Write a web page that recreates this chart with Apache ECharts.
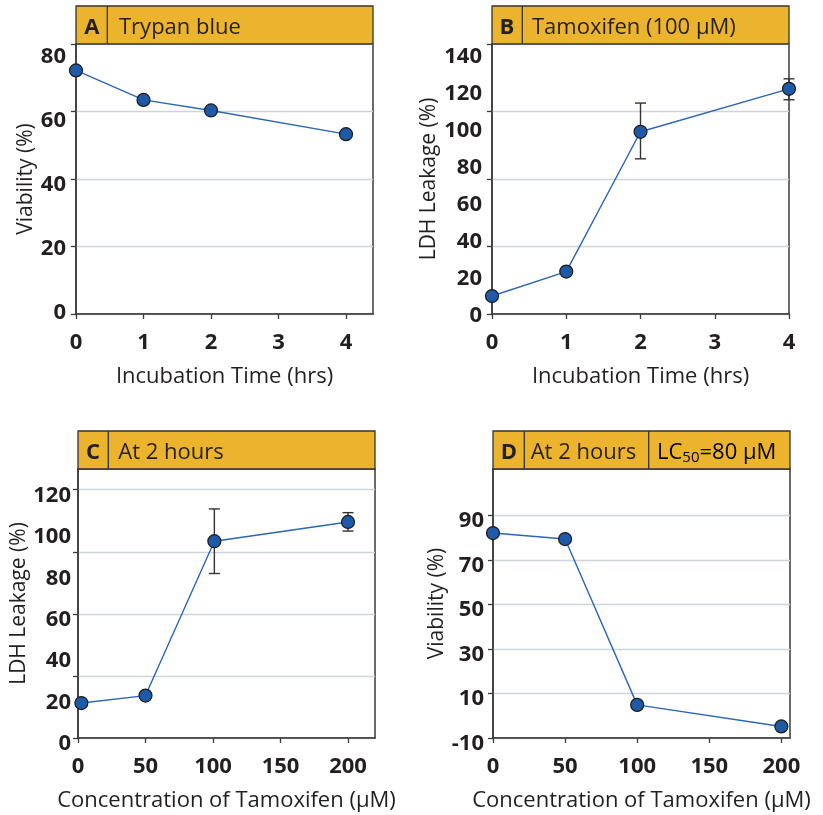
<!DOCTYPE html>
<html><head><meta charset="utf-8">
<script src="https://cdn.jsdelivr.net/npm/echarts@6/dist/echarts.min.js"></script>
<style>html,body{margin:0;padding:0;background:#fff}#c{width:823px;height:815px}</style>
</head><body><div id="c"></div>
<script>
// ---------------- data ----------------
const timeHrs = [0, 1, 2, 4];
const viabilityA = [75.0, 65.8, 62.5, 55.1];
const ldhB = [9.7, 22.9, 98.4, 121.6];
const ldhBLow = [null, null, 83.8, 115.7];
const ldhBHigh = [null, null, 113.9, 127.0];
const concC = [2.5, 50, 101, 200];
const ldhC = [16.9, 20.5, 95.1, 104.4];
const ldhCLow = [null, null, 79.5, 100.0];
const ldhCHigh = [null, null, 110.7, 108.9];
const concD = [0, 50, 100, 200];
const viabilityD = [82.2, 79.5, 4.9, -4.8];

const yLabelsA = [0, 20, 40, 60, 80];
const yLabelsB = [0, 20, 40, 60, 80, 100, 120, 140];
const yLabelsC = [0, 20, 40, 60, 80, 100, 120];
const yLabelsD = [-10, 10, 30, 50, 70, 90];
const xLabelsTime = [0, 1, 2, 3, 4];
const xLabelsConc = [0, 50, 100, 150, 200];

const headerA = ['A', 'Trypan blue'];
const headerB = ['B', 'Tamoxifen (100 µM)'];
const headerC = ['C', 'At 2 hours'];
const headerD = ['D', 'At 2 hours', 'LC', '50', '=80 µM'];

const xNameTime = 'Incubation Time (hrs)';
const xNameConc = 'Concentration of Tamoxifen (µM)';
const yNameViab = 'Viability (%)';
const yNameLdh = 'LDH Leakage (%)';

// ---------------- styling / layout ----------------
const FONT = '"Open Sans", "Noto Sans", sans-serif';
const TXT = '#231f20';
const AX = '#3a3a3a';
const GOLD = '#ecb32c';
const GRIDC = '#cfd3da';
const LINEC = '#2a66b8';
const MARK = '#1e5aa8';

const panels = [
  { left: 76, top: 44, width: 297, height: 270,
    x: { min: 0, max: 4.4, labels: xLabelsTime, name: xNameTime },
    y: { min: -1.03, max: 83.25, labels: yLabelsA, nTicks: 4, name: yNameViab, gap: 37, shift: 2, margin: 10 } },
  { left: 492, top: 44, width: 297, height: 270,
    x: { min: 0, max: 4, labels: xLabelsTime, name: xNameTime },
    y: { min: 0, max: 145.8, labels: yLabelsB, nTicks: 4, name: yNameLdh, gap: 52.5, shift: 1.5, margin: 10 } },
  { left: 78, top: 469, width: 297, height: 269,
    x: { min: 0, max: 220, labels: xLabelsConc, name: xNameConc },
    y: { min: 0, max: 130, labels: yLabelsC, tickStep: 30, tickMax: 120, name: yNameLdh, gap: 48, shift: 6, margin: 7 } },
  { left: 493, top: 469, width: 297, height: 269,
    x: { min: 0, max: 206, labels: xLabelsConc, name: xNameConc },
    y: { min: -10, max: 111, labels: yLabelsD, tickStep: 20, tickMax: 90, name: yNameViab, gap: 37.5, shift: 5.5, margin: 9 } }
];

function tickValues(y) {
  const out = [];
  if (y.nTicks) {
    for (let k = 0; k <= y.nTicks; k++) out.push(y.min + k * (y.max - y.min) / y.nTicks);
  } else {
    for (let v = y.min; v <= y.tickMax + 1e-9; v += y.tickStep) out.push(v);
  }
  return out;
}

const grids = [], xAxes = [], yAxes = [];
panels.forEach((p, i) => {
  grids.push({ left: p.left, top: p.top, width: p.width, height: p.height,
    show: true, borderColor: AX, borderWidth: 1.5, backgroundColor: '#fff' });
  xAxes.push({
    type: 'value', gridIndex: i, min: p.x.min, max: p.x.max,
    name: p.x.name, nameLocation: 'middle', nameGap: 52,
    nameTextStyle: { fontFamily: FONT, fontSize: 22, color: TXT },
    axisLine: { show: true, onZero: false, lineStyle: { color: AX, width: 1.5 } },
    axisTick: { show: true, length: 5, customValues: p.x.labels, lineStyle: { color: AX, width: 1.3 } },
    axisLabel: { customValues: p.x.labels, margin: 18, fontFamily: FONT, fontSize: 22, fontWeight: 'bold', color: TXT },
    splitLine: { show: false }
  });
  const tv = tickValues(p.y);
  yAxes.push({
    type: 'value', gridIndex: i, min: p.y.min, max: p.y.max,
    name: p.y.name, nameLocation: 'middle', nameGap: p.y.gap,
    nameTextStyle: { fontFamily: FONT, fontSize: 21, color: TXT },
    axisLine: { show: true, onZero: false, lineStyle: { color: AX, width: 1.5 } },
    axisTick: { show: true, length: 5, customValues: tv, lineStyle: { color: AX, width: 1.3 } },
    axisLabel: { customValues: p.y.labels, margin: p.y.margin, fontFamily: FONT, fontSize: 22, fontWeight: 'bold',
      color: TXT, verticalAlign: 'top', lineHeight: 2 * p.y.shift },
    splitLine: { show: true, lineStyle: { color: GRIDC, width: 1.3 } }
  });
});

function pairs(xs, ys) { return xs.map((x, i) => [x, ys[i]]); }
function errPairs(xs, lo, hi) {
  const out = [];
  xs.forEach((x, i) => { if (lo[i] != null) out.push([x, lo[i], hi[i]]); });
  return out;
}
function lineSeries(i, data) {
  return { type: 'line', xAxisIndex: i, yAxisIndex: i, data: data, clip: false, z: 5,
    symbol: 'circle', symbolSize: 13,
    lineStyle: { color: LINEC, width: 1.4 },
    itemStyle: { color: MARK, borderColor: '#1a1a1a', borderWidth: 1.2 } };
}
function errSeries(i, data) {
  return { type: 'custom', xAxisIndex: i, yAxisIndex: i, data: data, clip: false, z: 3,
    renderItem: function (params, api) {
      const x = api.value(0);
      const p1 = api.coord([x, api.value(2)]);
      const p2 = api.coord([x, api.value(1)]);
      const w = 5.5;
      const st = { stroke: '#333', lineWidth: 1.4 };
      return { type: 'group', children: [
        { type: 'line', shape: { x1: p1[0], y1: p1[1], x2: p2[0], y2: p2[1] }, style: st },
        { type: 'line', shape: { x1: p1[0] - w, y1: p1[1], x2: p1[0] + w, y2: p1[1] }, style: st },
        { type: 'line', shape: { x1: p2[0] - w, y1: p2[1], x2: p2[0] + w, y2: p2[1] }, style: st }
      ] };
    } };
}

const series = [
  lineSeries(0, pairs(timeHrs, viabilityA)),
  errSeries(1, errPairs(timeHrs, ldhBLow, ldhBHigh)),
  lineSeries(1, pairs(timeHrs, ldhB)),
  errSeries(2, errPairs(concC, ldhCLow, ldhCHigh)),
  lineSeries(2, pairs(concC, ldhC)),
  lineSeries(3, pairs(concD, viabilityD))
];

// ---------------- headers ----------------
const graphic = [];
function hdrBox(x, y, w, h, dividers) {
  graphic.push({ type: 'rect', shape: { x: x, y: y, width: w, height: h },
    style: { fill: GOLD, stroke: '#333', lineWidth: 1.3 }, z: 10 });
  dividers.forEach(d => graphic.push({ type: 'line', shape: { x1: d, y1: y, x2: d, y2: y + h },
    style: { stroke: '#333', lineWidth: 1.3 }, z: 11 }));
}
function hdrText(x, y, text, bold, align) {
  graphic.push({ type: 'text', z: 12, style: { text: text, x: x, y: y, fill: TXT,
    font: (bold ? 'bold ' : '') + '22px ' + FONT, align: align || 'left', verticalAlign: 'middle' } });
}
const HY1 = 27.5, HY2 = 452.5;
hdrBox(76, 6, 297, 38, [107.3]);
hdrText(91.8, HY1, headerA[0], true, 'center');
hdrText(119, HY1, headerA[1], false);
hdrBox(492, 6, 297, 38, [522.3]);
hdrText(507, HY1, headerB[0], true, 'center');
hdrText(532, HY1, headerB[1], false);
hdrBox(78, 431, 297, 38, [108.3]);
hdrText(93, HY2, headerC[0], true, 'center');
hdrText(118.3, HY2, headerC[1], false);
hdrBox(493, 431, 297, 38, [524.3, 648.7]);
hdrText(509, HY2, headerD[0], true, 'center');
hdrText(530.7, HY2, headerD[1], false);
graphic.push({ type: 'text', z: 12, style: {
  text: '{n|' + headerD[2] + '}{s|' + headerD[3] + '}{n|' + headerD[4] + '}',
  x: 657, y: HY2, verticalAlign: 'middle', align: 'left',
  rich: { n: { fontFamily: FONT, fontSize: 22, color: TXT, lineHeight: 26 },
          s: { fontFamily: FONT, fontSize: 15, color: TXT, lineHeight: 26, verticalAlign: 'bottom', padding: [10, 0, 0, 0] } } } });

const chart = echarts.init(document.getElementById('c'), null, { renderer: 'canvas' });
chart.setOption({
  animation: false,
  backgroundColor: '#fff',
  grid: grids, xAxis: xAxes, yAxis: yAxes, series: series, graphic: graphic
});
</script></body></html>
